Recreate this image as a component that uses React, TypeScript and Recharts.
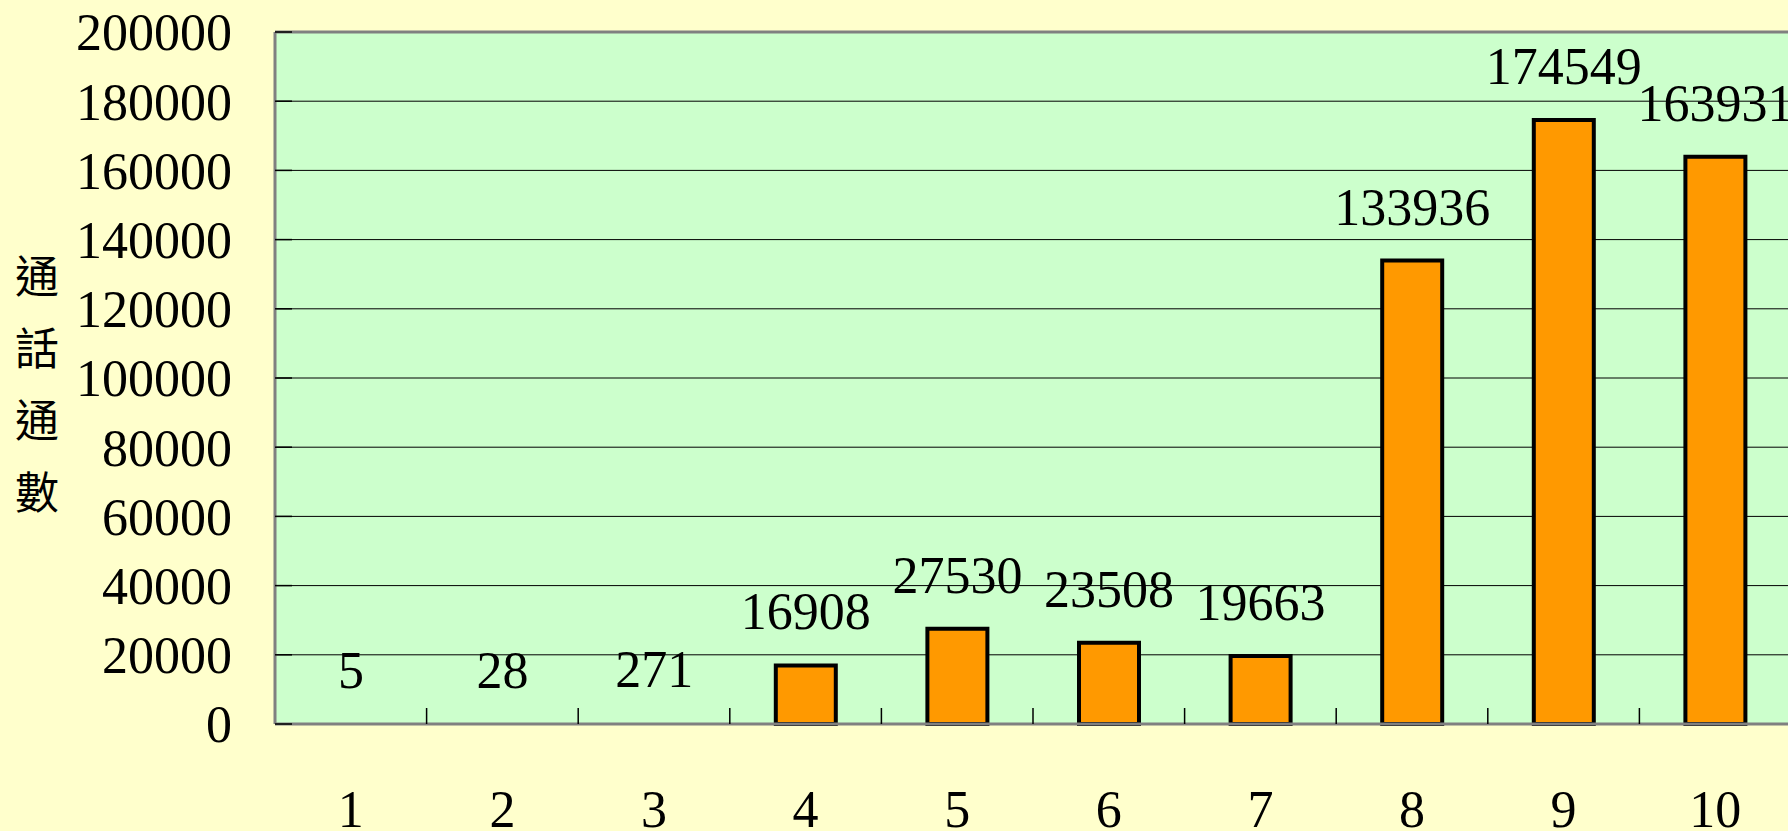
import React from "react";
import {
  BarChart,
  Bar,
  XAxis,
  YAxis,
  CartesianGrid,
  LabelList,
  ReferenceLine,
  Rectangle,
} from "recharts";

const months = ["1", "2", "3", "4", "5", "6", "7", "8", "9", "10"];
const calls = [5, 28, 271, 16908, 27530, 23508, 19663, 133936, 174549, 163931];
const yTicks = [0, 20000, 40000, 60000, 80000, 100000, 120000, 140000, 160000, 180000, 200000];
// boundaries between the month bands, used for the small upward tick marks
const bandEdges = [1, 2, 3, 4, 5, 6, 7, 8, 9];
const yTitle = "通話通數";

const chartData = months.map((m, i) => ({ month: m, calls: calls[i], edge: i }));

if (typeof document !== "undefined") {
  document.body.style.margin = "0";
}

const NUM_FONT = "'Liberation Serif', 'DejaVu Serif', serif";

function OutlinedBar(props: any) {
  // very small values collapse into the axis line
  if (!props.height || props.height < 2) return <g />;
  const { x, y, width, height } = props;
  return (
    <Rectangle
      x={x}
      y={y}
      width={width}
      height={height}
      fill="#FF9900"
      stroke="#000"
      strokeWidth={4}
    />
  );
}

function NoLabel() {
  return <g />;
}

function VerticalTitle({ viewBox }: any) {
  const chars = Array.from(yTitle);
  const cy = viewBox.y + viewBox.height / 2 + 4;
  return (
    <g>
      {chars.map((c, i) => (
        <text
          key={i}
          x={37}
          y={cy + (i - (chars.length - 1) / 2) * 72}
          textAnchor="middle"
          dominantBaseline="central"
          fontSize={44}
          fontFamily="'Noto Sans CJK TC', 'Noto Sans CJK SC', sans-serif"
          fill="#000"
        >
          {c}
        </text>
      ))}
    </g>
  );
}

export default function App() {
  return (
    <div style={{ width: 1788, height: 831, overflow: "hidden", background: "#FFFFCC" }}>
      <BarChart
        width={1800}
        height={831}
        data={chartData}
        margin={{ top: 32, right: 9, bottom: 0, left: 0 }}
      >
        <CartesianGrid vertical={false} stroke="#000" strokeWidth={1} fill="#CCFFCC" />
        <Bar
          dataKey="calls"
          fill="#FF9900"
          barSize={60}
          shape={OutlinedBar}
          isAnimationActive={false}
        >
          <LabelList
            dataKey="calls"
            position="top"
            offset={36}
            fill="#000"
            fontSize={52}
            fontFamily={NUM_FONT}
          />
        </Bar>
        <ReferenceLine y={200000} stroke="#808080" strokeWidth={3} />
        <XAxis
          dataKey="month"
          height={107}
          axisLine={{ stroke: "#808080", strokeWidth: 3 }}
          tickLine={false}
          tickSize={0}
          tickMargin={66}
          interval={0}
          tick={{ fill: "#000", fontSize: 52, fontFamily: NUM_FONT }}
        />
        <XAxis
          xAxisId="edges"
          dataKey="edge"
          type="number"
          domain={[0, 10]}
          ticks={bandEdges}
          interval={0}
          allowDataOverflow
          mirror
          axisLine={false}
          tickSize={16}
          stroke="#000"
          tickLine={{ stroke: "#000", strokeWidth: 1.5 }}
          tick={NoLabel}
        />
        <YAxis
          width={275}
          domain={[0, 200000]}
          ticks={yTicks}
          interval={0}
          axisLine={{ stroke: "#808080", strokeWidth: 3 }}
          tickSize={-17}
          tickMargin={60}
          tickLine={{ stroke: "#000", strokeWidth: 1.5 }}
          tick={{ fill: "#000", fontSize: 52, fontFamily: NUM_FONT }}
          label={{ value: yTitle, content: VerticalTitle }}
        />
      </BarChart>
    </div>
  );
}
